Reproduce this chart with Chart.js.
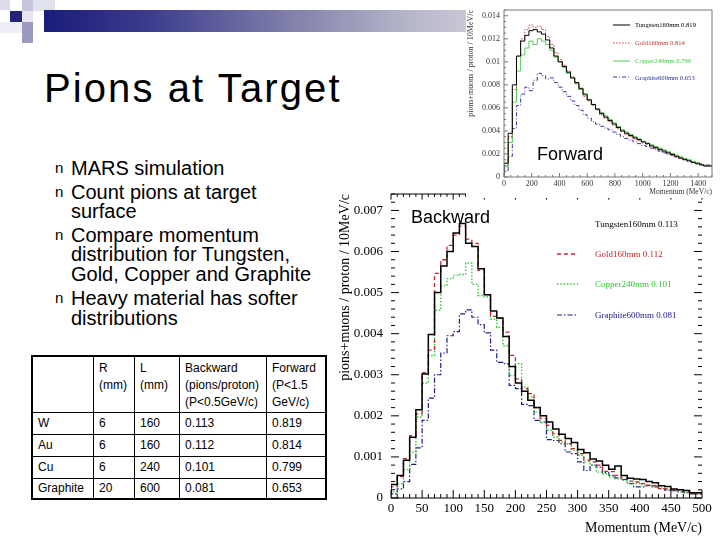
<!DOCTYPE html>
<html><head><meta charset="utf-8">
<script src="https://cdn.jsdelivr.net/npm/chart.js@4.4.1/dist/chart.umd.min.js"></script>
<style>
html,body{margin:0;padding:0;background:#fff;}
body{width:720px;height:540px;position:relative;overflow:hidden;font-family:"Liberation Sans",Arial,sans-serif;color:#000;}
.a{position:absolute;white-space:nowrap;}
.sq{position:absolute;}
.line{position:absolute;left:71px;font-size:20px;line-height:20px;}
.bul{position:absolute;left:55px;font-size:15px;line-height:20px;}
table{position:absolute;left:31px;top:355px;border-collapse:collapse;font-size:12px;border:2px solid #000;}
td{border:1.5px solid #000;padding:0 0 0 5px;vertical-align:middle;line-height:17px;}
tr.h td{vertical-align:top;padding-top:3px;}
.lgB{position:absolute;font-family:"Liberation Serif",serif;font-size:9px;line-height:10px;z-index:5;}
.lgF{position:absolute;font-family:"Liberation Serif",serif;font-size:6.6px;line-height:7px;z-index:5;}
canvas{position:absolute;}
</style></head><body>

<!-- template decoration -->
<div class="sq" style="left:0;top:0;width:10px;height:10px;background:#dcdcec"></div>
<div class="sq" style="left:10px;top:11px;width:12px;height:11px;background:#232378"></div>
<div class="sq" style="left:22px;top:0;width:11px;height:11px;background:#c6c6dc"></div>
<div class="sq" style="left:33px;top:0;width:22px;height:11px;background:#e2e2ee"></div>
<div class="sq" style="left:22px;top:11px;width:11px;height:11px;background:#e6e6f0"></div>
<div class="sq" style="left:0;top:22px;width:22px;height:11px;background:#eeeef6"></div>
<div class="sq" style="left:22px;top:22px;width:11px;height:21px;background:#9a9ac0"></div>
<div class="sq" style="left:44px;top:10px;width:424px;height:22px;background:linear-gradient(to right,#1b1b7c 0%,#3c3c8c 25%,#7a7aa6 55%,#b4b4c8 85%,#c8c8d6 100%)"></div>

<div class="a" id="title" style="left:44px;top:66px;font-size:40px;line-height:44px;letter-spacing:2.1px;">Pions at Target</div>

<div class="bul" style="top:158px">n</div>
<div class="line" style="top:158px">MARS simulation</div>
<div class="bul" style="top:182px">n</div>
<div class="line" style="top:182px">Count pions at target</div>
<div class="line" style="top:201px">surface</div>
<div class="bul" style="top:225px">n</div>
<div class="line" style="top:225px">Compare momentum</div>
<div class="line" style="top:244px">distribution for Tungsten,</div>
<div class="line" style="top:264px">Gold, Copper and Graphite</div>
<div class="bul" style="top:288px">n</div>
<div class="line" style="top:288px">Heavy material has softer</div>
<div class="line" style="top:308px">distributions</div>

<table id="tbl"></table>

<canvas id="back" width="384" height="355" style="left:336px;top:185px;"></canvas>
<canvas id="fwd" width="254" height="198" style="left:466px;top:0px;background:#fff;z-index:2;"></canvas>

<div class="lgB" style="left:595px;top:219px;color:#000">Tungsten160mm 0.113</div>
<div class="lgB" style="left:595px;top:249px;color:#c02828">Gold160mm 0.112</div>
<div class="lgB" style="left:595px;top:279px;color:#2cc82c">Copper240mm 0.101</div>
<div class="lgB" style="left:595px;top:310px;color:#20208c">Graphite600mm 0.081</div>

<div class="lgF" style="left:635px;top:21px;color:#000">Tungsten160mm 0.819</div>
<div class="lgF" style="left:635px;top:39px;color:#c83030">Gold160mm 0.814</div>
<div class="lgF" style="left:635px;top:57px;color:#40c840">Copper240mm 0.799</div>
<div class="lgF" style="left:635px;top:74px;color:#3030a0">Graphite600mm 0.653</div>

<div class="a" style="left:411px;top:207px;font-size:18px;line-height:20px;z-index:6;">Backward</div>
<div class="a" style="left:537px;top:144px;font-size:18px;line-height:20px;z-index:6;">Forward</div>

<script>
// ---------- DATA ----------
const seriesNames = ['Tungsten160mm', 'Gold160mm', 'Copper240mm', 'Graphite600mm'];

// Backward: 10 MeV/c bins (low edges), 0-500 MeV/c
const backwardBins = [0,10,20,30,40,50,60,70,80,90,100,110,120,130,140,150,160,170,180,190,200,210,220,230,240,250,260,270,280,290,300,310,320,330,340,350,360,370,380,390,400,410,420,430,440,450,460,470,480,490];
const backwardTungsten = [0.00008,0.00033,0.00055,0.00092,0.00148,0.00215,0.00302,0.00398,0.00500,0.00565,0.00600,0.00645,0.00668,0.00620,0.00612,0.00558,0.00495,0.00455,0.00438,0.00393,0.00320,0.00280,0.00260,0.00238,0.00220,0.00200,0.00185,0.00168,0.00155,0.00145,0.00135,0.00118,0.00110,0.00095,0.00090,0.00080,0.00070,0.00078,0.00055,0.00048,0.00046,0.00045,0.00040,0.00037,0.00030,0.00028,0.00022,0.00020,0.00018,0.00013];
const backwardGold = [0.00006,0.00027,0.00052,0.00096,0.00152,0.00205,0.00305,0.00360,0.00547,0.00580,0.00615,0.00640,0.00662,0.00630,0.00620,0.00554,0.00495,0.00442,0.00438,0.00404,0.00347,0.00290,0.00266,0.00254,0.00220,0.00193,0.00177,0.00156,0.00140,0.00132,0.00120,0.00108,0.00092,0.00088,0.00080,0.00065,0.00064,0.00055,0.00049,0.00041,0.00039,0.00035,0.00031,0.00030,0.00023,0.00022,0.00019,0.00020,0.00015,0.00010];
const backwardCopper = [0.00003,0.00015,0.00035,0.00069,0.00112,0.00197,0.00280,0.00347,0.00457,0.00517,0.00534,0.00542,0.00544,0.00572,0.00520,0.00493,0.00490,0.00435,0.00415,0.00370,0.00298,0.00327,0.00270,0.00246,0.00209,0.00183,0.00165,0.00148,0.00136,0.00132,0.00116,0.00104,0.00088,0.00080,0.00063,0.00059,0.00051,0.00047,0.00043,0.00036,0.00035,0.00032,0.00031,0.00027,0.00024,0.00021,0.00019,0.00016,0.00013,0.00010];
const backwardGraphite = [0.00003,0.00010,0.00022,0.00040,0.00082,0.00122,0.00189,0.00243,0.00300,0.00353,0.00395,0.00405,0.00448,0.00458,0.00440,0.00422,0.00402,0.00360,0.00330,0.00327,0.00274,0.00266,0.00228,0.00225,0.00189,0.00185,0.00142,0.00140,0.00132,0.00112,0.00108,0.00088,0.00067,0.00080,0.00075,0.00062,0.00055,0.00049,0.00045,0.00035,0.00027,0.00027,0.00030,0.00027,0.00023,0.00019,0.00018,0.00015,0.00013,0.00010];

// Forward: 30 MeV/c bins (low edges), 0-1500 MeV/c
const forwardBins = [0,30,60,90,120,150,180,210,240,270,300,330,360,390,420,450,480,510,540,570,600,630,660,690,720,750,780,810,840,870,900,930,960,990,1020,1050,1080,1110,1140,1170,1200,1230,1260,1290,1320,1350,1380,1410,1440,1470];
const forwardTungsten = [0.0003,0.0012,0.0038,0.0080,0.0105,0.0118,0.0123,0.0127,0.0128,0.0126,0.0124,0.0119,0.0112,0.0105,0.0100,0.0096,0.0091,0.0086,0.0082,0.0077,0.0072,0.0067,0.0063,0.0059,0.0055,0.0052,0.0049,0.0046,0.0043,0.0040,0.0038,0.0036,0.0034,0.00325,0.00305,0.0029,0.0027,0.00255,0.0024,0.00225,0.0021,0.00195,0.0018,0.00165,0.0015,0.0014,0.00125,0.00115,0.00105,0.00095];
const forwardGold = [0.0002,0.0010,0.0035,0.0076,0.0105,0.0120,0.0128,0.0132,0.0130,0.0131,0.0128,0.0122,0.0115,0.0108,0.0102,0.0097,0.0092,0.0087,0.0081,0.0076,0.0070,0.0066,0.0062,0.0058,0.0054,0.0051,0.0048,0.0045,0.0042,0.00395,0.0037,0.0035,0.0033,0.00315,0.00295,0.0028,0.0026,0.00245,0.0023,0.00215,0.0020,0.00185,0.0017,0.0016,0.0015,0.00135,0.00125,0.00115,0.00105,0.00095];
const forwardCopper = [0.0002,0.0009,0.0030,0.0065,0.0092,0.0106,0.0112,0.0118,0.0115,0.0120,0.0118,0.0115,0.0110,0.0104,0.0100,0.0095,0.0090,0.0086,0.0081,0.0076,0.0071,0.0067,0.0063,0.0059,0.0056,0.0053,0.0050,0.0047,0.0044,0.0041,0.0039,0.0037,0.0035,0.0033,0.0031,0.00295,0.0028,0.00265,0.0025,0.00235,0.0022,0.00205,0.0019,0.00175,0.0016,0.0015,0.00135,0.00125,0.0011,0.0010];
const forwardGraphite = [0.0001,0.0005,0.0018,0.0042,0.0062,0.0072,0.0078,0.0075,0.0084,0.0090,0.0088,0.0085,0.0086,0.0082,0.0078,0.0074,0.0070,0.0066,0.0062,0.0058,0.0054,0.0051,0.0048,0.0046,0.0044,0.00425,0.0041,0.0039,0.0037,0.0035,0.00335,0.0032,0.00305,0.0029,0.00275,0.00265,0.0025,0.0024,0.00225,0.0021,0.0020,0.0019,0.00175,0.00165,0.00155,0.00145,0.00135,0.00125,0.00115,0.00105];

// Table
const tableHeader = ['', 'R<br>(mm)', 'L<br>(mm)', 'Backward<br>(pions/proton)<br>(P&lt;0.5GeV/c)', 'Forward<br>(P&lt;1.5<br>GeV/c)'];
const tableMaterials = ['W', 'Au', 'Cu', 'Graphite'];
const tableR = ['6', '6', '6', '20'];
const tableL = ['160', '160', '240', '600'];
const tableBackward = ['0.113', '0.112', '0.101', '0.081'];
const tableForward = ['0.819', '0.814', '0.799', '0.653'];

// ---------- TABLE ----------
(function(){
  const widths=[61,41,45,87,59];
  const t=document.getElementById('tbl');
  let h='<tr class="h" style="height:56px">'+tableHeader.map((c,i)=>'<td style="width:'+(widths[i]-6)+'px">'+c+'</td>').join('')+'</tr>';
  tableMaterials.forEach((m,i)=>{
    h+='<tr style="height:'+(i===3?21:22)+'px"><td>'+m+'</td><td>'+tableR[i]+'</td><td>'+tableL[i]+'</td><td>'+tableBackward[i]+'</td><td>'+tableForward[i]+'</td></tr>';
  });
  t.innerHTML=h;
})();

// ---------- CHARTS ----------
function histPoints(edges, vals, end){
  const pts=edges.map((e,i)=>({x:e,y:vals[i]}));
  pts.push({x:end,y:vals[vals.length-1]});
  return pts;
}
function isMult(v,s){ const r=v/s; return Math.abs(r-Math.round(r))<1e-6; }
function fixSize(dim,val){ return function(s){ s[dim]=val; s.paddingTop=0; s.paddingBottom=0; s.paddingLeft=0; s.paddingRight=0; }; }

const rootFrame={
  id:'rootFrame',
  afterDatasetsDraw(chart,args,o){
    const {ctx,chartArea:a,scales:{x,y}}=chart;
    ctx.save();
    ctx.strokeStyle=o.color; ctx.lineWidth=o.lineWidth; ctx.setLineDash([]);
    ctx.beginPath();
    if(o.box){ ctx.rect(a.left,a.top,a.right-a.left,a.bottom-a.top); }
    else {
      ctx.moveTo(a.left,a.bottom); ctx.lineTo(a.right,a.bottom);
      if(o.topLine){ ctx.moveTo(a.left,a.top); ctx.lineTo(a.right,a.top); }
    }
    const nx=Math.round((x.max-x.min)/o.xMinor);
    for(let i=0;i<=nx;i++){
      const v=x.min+i*o.xMinor, px=x.getPixelForValue(v);
      const len=isMult(v,o.xMajor)?o.majorLen:o.minorLen;
      ctx.moveTo(px,a.bottom); ctx.lineTo(px,a.bottom-len);
      if(o.topTicks){ ctx.moveTo(px,a.top); ctx.lineTo(px,a.top+len*0.7); }
    }
    const ny=Math.floor((y.max-y.min)/o.yMinor+1e-6);
    for(let i=0;i<=ny;i++){
      const v=y.min+i*o.yMinor, py=y.getPixelForValue(v);
      const len=isMult(v,o.yMajor)?o.majorLen:o.minorLen;
      ctx.moveTo(a.left,py); ctx.lineTo(a.left+len,py);
      if(o.rightTicks){ ctx.moveTo(a.right,py); ctx.lineTo(a.right-len,py); }
    }
    ctx.stroke();
    (o.samples||[]).forEach(s=>{
      const ds=chart.data.datasets[s.index];
      ctx.strokeStyle=ds.borderColor; ctx.lineWidth=ds.borderWidth;
      ctx.setLineDash(ds.borderDash||[]);
      ctx.beginPath(); ctx.moveTo(s.x1,s.y); ctx.lineTo(s.x2,s.y); ctx.stroke();
    });
    ctx.restore();
  }
};

const colors=['#000000','#c42a2a','#33cc33','#1e1e8a'];
const dashes=[[],[4,3],[1.5,1.8],[5,2,1.5,2]];
const widthsB=[1.5,1.3,1.4,1.2];

const serif='"Liberation Serif","Times New Roman",serif';

new Chart(document.getElementById('back'),{
  type:'line',
  data:{datasets:[backwardTungsten,backwardGold,backwardCopper,backwardGraphite].map((vals,i)=>({
    label:seriesNames[i], data:histPoints(backwardBins,vals,500), stepped:'after',
    borderColor:colors[i], borderWidth:widthsB[i], borderDash:dashes[i], pointRadius:0, fill:false
  }))},
  options:{
    responsive:false, animation:false,
    layout:{padding:{left:0,right:18,top:9,bottom:0}},
    plugins:{legend:{display:false},tooltip:{enabled:false},
      rootFrame:{color:'#000',lineWidth:1,box:false,topLine:true,topTicks:true,rightTicks:true,
        xMinor:10,xMajor:50,yMinor:0.0002,yMajor:0.001,majorLen:8,minorLen:4,
        samples:[{index:1,x1:221,x2:242,y:69},{index:2,x1:221,x2:242,y:99},{index:3,x1:221,x2:242,y:130}]}},
    scales:{
      x:{type:'linear',min:0,max:500,
        grid:{display:false,tickLength:0},border:{display:false},
        ticks:{stepSize:50,autoSkip:false,includeBounds:false,maxRotation:0,padding:3,color:'#000',font:{family:serif,size:13},
          callback:v=>String(v)},
        title:{display:true,text:'Momentum (MeV/c)',align:'end',color:'#000',font:{family:serif,size:14},padding:{top:4,bottom:3}},
        afterFit:fixSize('height',42)
      },
      y:{type:'linear',min:0,max:0.0074,
        grid:{display:false,tickLength:0},border:{display:false},
        afterBuildTicks(s){s.ticks=s.ticks.filter(t=>isMult(t.value,0.001));},
        ticks:{stepSize:0.001,includeBounds:false,padding:8,color:'#000',font:{family:serif,size:13},
          callback:v=>v===0?'0':Number(v).toFixed(3)},
        title:{display:true,text:'pions+muons / proton / 10MeV/c',align:'end',color:'#000',font:{family:serif,size:14},padding:{top:1,bottom:0}},
        afterFit:fixSize('width',55)
      }
    }
  },
  plugins:[rootFrame]
});

const colorsF=['#000000','#d04040','#50d050','#3535a5'];
const dashesF=[[],[1.5,1.5],[],[4,2,1,2]];
new Chart(document.getElementById('fwd'),{
  type:'line',
  data:{datasets:[forwardTungsten,forwardGold,forwardCopper,forwardGraphite].map((vals,i)=>({
    label:seriesNames[i], data:histPoints(forwardBins,vals,1500), stepped:'after',
    borderColor:colorsF[i], borderWidth:1, borderDash:dashesF[i], pointRadius:0, fill:false
  }))},
  options:{
    responsive:false, animation:false,
    layout:{padding:{left:0,right:8,top:10,bottom:0}},
    plugins:{legend:{display:false},tooltip:{enabled:false},
      rootFrame:{color:'#777',lineWidth:1,box:true,topTicks:false,rightTicks:false,
        xMinor:50,xMajor:200,yMinor:0.0005,yMajor:0.002,majorLen:4,minorLen:2,
        samples:[{index:0,x1:147,x2:164,y:25},{index:1,x1:147,x2:164,y:43},{index:2,x1:147,x2:164,y:61},{index:3,x1:147,x2:164,y:77}]}},
    scales:{
      x:{type:'linear',min:0,max:1500,
        grid:{display:false,tickLength:0},border:{display:false},
        afterBuildTicks(s){s.ticks=s.ticks.filter(t=>isMult(t.value,200));},
        ticks:{stepSize:200,autoSkip:false,includeBounds:false,maxRotation:0,padding:2,color:'#333',font:{family:serif,size:8},
          callback:v=>String(v)},
        title:{display:true,text:'Momentum (MeV/c)',align:'end',color:'#333',font:{family:serif,size:7.5},padding:{top:0,bottom:1}},
        afterFit:fixSize('height',21)
      },
      y:{type:'linear',min:0,max:0.0145,
        grid:{display:false,tickLength:0},border:{display:false},
        afterBuildTicks(s){s.ticks=s.ticks.filter(t=>isMult(t.value,0.002));},
        ticks:{stepSize:0.002,includeBounds:false,padding:4,color:'#333',font:{family:serif,size:8},
          callback:v=>v===0?'0':String(parseFloat(Number(v).toFixed(3)))},
        title:{display:true,text:'pions+muons / proton / 10MeV/c',align:'end',color:'#333',font:{family:serif,size:8},padding:{top:0,bottom:0}},
        afterFit:fixSize('width',38)
      }
    }
  },
  plugins:[rootFrame]
});
</script>
</body></html>
